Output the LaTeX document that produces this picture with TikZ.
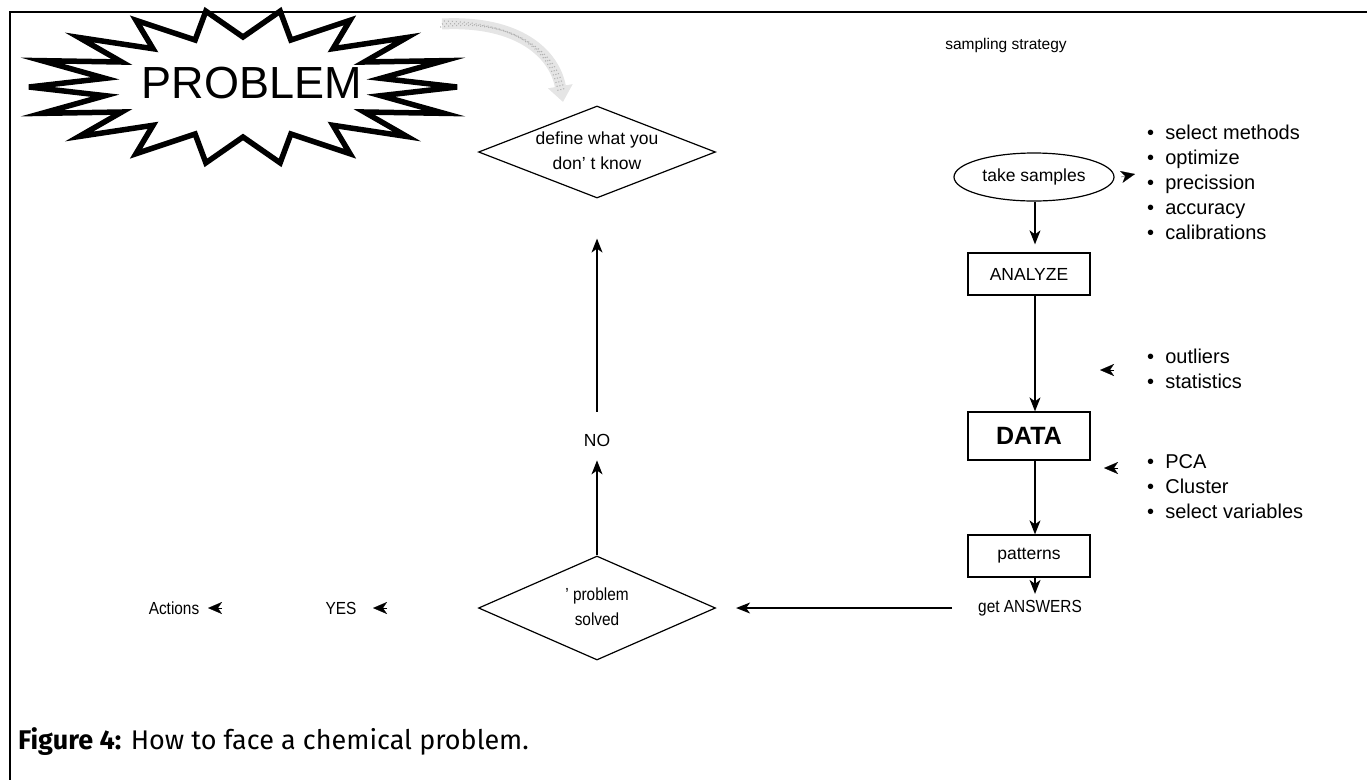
\documentclass[tikz,border=0pt]{standalone}
\usepackage{fontspec}
\setmainfont{Liberation Sans}
\newfontfamily\narrowfont[FakeStretch=0.88]{Liberation Sans}
\newfontfamily\capfont{Fira Sans}
\usetikzlibrary{arrows.meta,shapes.geometric}

\begin{document}
\begin{tikzpicture}[x=1pt,y=-1pt,
  font=\fontsize{17.5}{25}\selectfont,
  flow/.style={-{Stealth[length=14pt,width=11pt,inset=4pt]}, line width=1.2pt},
  loose/.style={-{Stealth[length=14pt,width=12pt,inset=4pt]}, line width=0.2pt},
  stepbox/.style={draw, line width=1.3pt, minimum width=122pt, minimum height=42pt, inner sep=0pt},
  decision/.style={draw, diamond, line width=1.2pt, minimum width=237pt, minimum height=92pt, inner sep=0pt},
  label/.style={inner sep=0pt, align=center},
  narrow/.style={inner sep=0pt, align=center, font=\narrowfont\fontsize{17.5}{25}\selectfont},
  listing/.style={inner sep=0pt, align=left, anchor=west, font=\fontsize{20}{25}\selectfont},
]
\useasboundingbox (0,0) rectangle (1367,780);

% frame: top rule and left rule
\draw[line width=1.5pt] (1367,12) -- (10,12) -- (10,780);

% the starburst around PROBLEM: alternating outer tips and inner notches
\foreach \i in {0,...,35} {
  \pgfmathsetmacro\rx{mod(\i,2)==0 ? 214 : 140}
  \pgfmathsetmacro\ry{mod(\i,2)==0 ? 77 : 50}
  \coordinate (b\i) at ({243+\rx*cos(\i*10)},{87+\ry*sin(\i*10)});
}
\draw[line width=5.5pt, line join=miter, miter limit=8]
  (b0) \foreach \i in {1,...,35} { -- (b\i) } -- cycle;
\node[label, font=\fontsize{45}{50}\selectfont] (problem) at (252,83) {PROBLEM};

% faint stippled arrow from the burst to the first question
\coordinate (g0) at (442,24);
\coordinate (g1) at (563,102);
\draw[line width=11pt, draw=black!10, -{Triangle[length=16pt,width=24pt]}, color=black!10]
  (g0) .. controls (520,20) and (555,55) .. (g1);
\foreach \d in {-3,0,3} {
  \draw[line width=1.2pt, draw=black!30, dash pattern=on 1pt off 3pt, shorten >=10pt]
    ([shift={(\d*0.6pt,\d*1pt)}]g0) .. controls (520+\d*0.6,20+\d) and (555+\d,55) .. ([xshift=\d*1pt]g1);
}

% left column: decisions
\node[decision] (define) at (597,152) {};
\node[label] (definetext) at (597,151) {define what you\\don' t know};
\node[label] (no) at (597,440) {NO};
\node[decision, minimum height=104pt] (solved) at (597,608) {};
\node[narrow] (solvedtext) at (597,607) {’ problem\\solved};

\draw[flow] (solved.north) -- ([yshift=-14pt]no.south);
\draw[flow, shorten >=40pt] ([yshift=22pt]no.north) -- (define.south);

\node[narrow] (yes) at (341,608) {YES};
\node[narrow] (actions) at (174,608) {Actions};
\coordinate (yestip) at (373,608);
\coordinate (acttip) at (208,608);
\draw[loose] ([xshift=14pt]yestip) -- (yestip);
\draw[loose] ([xshift=14pt]acttip) -- (acttip);

% right column: the analytical chain
\node[label, font=\fontsize{15.5}{20}\selectfont] (strategy) at (1006,45) {sampling strategy};
\node[draw, ellipse, line width=1.2pt, minimum width=160pt, minimum height=48pt, inner sep=0pt] (take) at (1034,177) {take samples};
\node[stepbox] (analyze) at (1029,274) {ANALYZE};
\node[stepbox, minimum height=48pt, font=\fontsize{25}{25}\bfseries] (data) at (1029,436) {DATA};
\node[stepbox] (patterns) at (1029,556) {patterns};
\node[narrow] (answers) at (1030,608) {get ANSWERS};

\draw[flow] (take.south -| 1035,0) -- ([yshift=8pt]analyze.north -| 1035,0);
\draw[flow] (analyze.south -| 1035,0) -- (data.north -| 1035,0);
\draw[flow] (data.south -| 1035,0) -- (patterns.north -| 1035,0);
\draw[flow] (patterns.south -| 1035,0) -- ([yshift=6pt]answers.north -| 1035,0);
\draw[flow, shorten <=26pt, shorten >=20pt] (answers.west) -- (solved.east);

% side notes with their pointers
\node[listing] (notes1) at (1147,182) {•\ \ select methods\\•\ \ optimize\\•\ \ precission\\•\ \ accuracy\\•\ \ calibrations};
\node[listing] (notes2) at (1147,369) {•\ \ outliers\\•\ \ statistics};
\node[listing] (notes3) at (1147,487) {•\ \ PCA\\•\ \ Cluster\\•\ \ select variables};

\coordinate (tip1) at (1135,174);
\coordinate (tip2) at (1100,370);
\coordinate (tip3) at (1104,468);
\draw[loose] ([shift={(-14pt,-3pt)}]tip1) -- (tip1);
\draw[loose] ([xshift=14pt]tip2) -- (tip2);
\draw[loose] ([xshift=14pt]tip3) -- (tip3);

% caption
\node[inner sep=0pt, anchor=west, font=\capfont\fontsize{27}{30}\selectfont] (caption) at (18,742)
  {\textbf{Figure 4:} How to face a chemical problem.};
\end{tikzpicture}
\end{document}
